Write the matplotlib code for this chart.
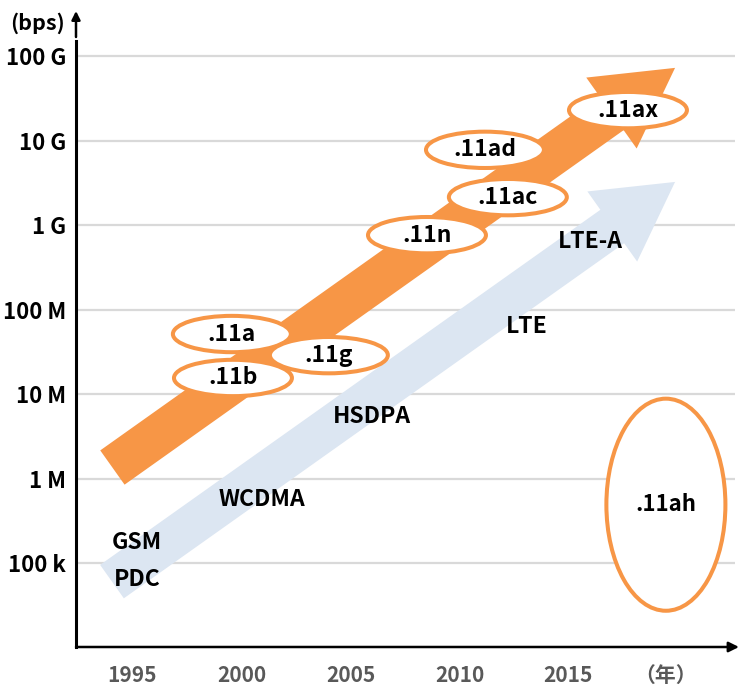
import matplotlib
matplotlib.use("Agg")
import matplotlib.pyplot as plt
from matplotlib.patches import Ellipse

plt.rcParams['font.family'] = ['Noto Sans CJK JP', 'DejaVu Sans']
plt.rcParams['font.weight'] = 'bold'

# y は bps の log10
y_ticks = [5, 6, 7, 8, 9, 10, 11]
y_labels = ["100 k", "1 M", "10 M", "100 M", "1 G", "10 G", "100 G"]
x_ticks = [1995, 2000, 2005, 2010, 2015]
x_labels = ["1995", "2000", "2005", "2010", "2015"]

# 無線LAN 規格 (楕円)
wifi_names = [".11a", ".11b", ".11g", ".11n", ".11ac", ".11ad", ".11ax"]
wifi_year = [1999.56, 1999.61, 2004.01, 2008.51, 2012.22, 2011.17, 2017.73]
wifi_log_bps = [7.71, 7.19, 7.46, 8.88, 9.33, 9.89, 10.36]

# .11ah (縦長の楕円)
ah_year = 2019.47
ah_log_bps = 5.69
ah_log_span = 2.51

# 携帯電話 規格
cell_names = ["GSM", "PDC", "WCDMA", "HSDPA", "LTE", "LTE-A"]
cell_year = [1995.21, 1995.21, 2000.94, 2005.99, 2013.10, 2015.99]
cell_log_bps = [5.24, 4.80, 5.75, 6.73, 7.80, 8.80]

# トレンド矢印 (始点, 終点)
wlan_trend_year = [1994.08, 2019.89]
wlan_trend_bps = [6.13, 10.86]
cell_trend_year = [1994.06, 2019.89]
cell_trend_bps = [4.78, 9.51]

ORANGE = "#F79646"
BLUE = "#DCE6F2"

fig = plt.figure(figsize=(7.38, 6.87), dpi=100)
ax = fig.add_axes([76 / 738, 40 / 687, 659 / 738, 606 / 687])
ax.set_xlim(1992.41, 2022.64)
ax.set_ylim(4.006, 11.178)

ax.set_yticks(y_ticks)
ax.set_yticklabels(y_labels, fontsize=16, fontweight='bold', color='black')
ax.set_xticks(x_ticks + [ah_year])
ax.set_xticklabels(x_labels + ["（年）"], fontsize=15, fontweight='bold', color='#595959')
ax.tick_params(axis='y', length=0, pad=7)
ax.tick_params(axis='x', length=0, pad=13)

ax.set_axisbelow(True)
ax.grid(axis='y', color='#D9D9D9', linewidth=1.6)
ax.grid(axis='x', visible=False)

for side in ["top", "right", "bottom"]:
    ax.spines[side].set_visible(False)
ax.spines["left"].set_linewidth(2.2)

# 横軸の矢印
ax.annotate("", xy=(1.006, 0), xytext=(0, 0), xycoords='axes fraction',
            textcoords='axes fraction', annotation_clip=False,
            arrowprops=dict(arrowstyle='-|>,head_length=0.6,head_width=0.3',
                            color='black', lw=1.8, shrinkA=0, shrinkB=0))

# 縦軸の上の小さい矢印と単位
fig.text(37 / 738, 1 - 23 / 687, "(bps)", ha='center', va='center',
         fontsize=15.5, fontweight='bold')
ax.annotate("", xy=(76 / 738, 1 - 11 / 687), xytext=(76 / 738, 1 - 37 / 687),
            xycoords='figure fraction', textcoords='figure fraction',
            arrowprops=dict(arrowstyle='-|>,head_length=0.5,head_width=0.25',
                            color='black', lw=1.8, shrinkA=0, shrinkB=0))

# トレンド矢印 (幅はピクセル相当)
px = 72 / 100
ax.annotate("", xy=(cell_trend_year[1], cell_trend_bps[1]),
            xytext=(cell_trend_year[0], cell_trend_bps[0]), zorder=1,
            arrowprops=dict(arrowstyle='simple,head_length=77,head_width=86,tail_width=41',
                            mutation_scale=px, fc=BLUE, ec='none', lw=0,
                            shrinkA=0, shrinkB=0))
ax.annotate("", xy=(wlan_trend_year[1], wlan_trend_bps[1]),
            xytext=(wlan_trend_year[0], wlan_trend_bps[0]), zorder=2,
            arrowprops=dict(arrowstyle='simple,head_length=78,head_width=87,tail_width=42',
                            mutation_scale=px, fc=ORANGE, ec='none', lw=0,
                            shrinkA=0, shrinkB=0))

for name, yr, lb in zip(wifi_names, wifi_year, wifi_log_bps):
    ax.add_patch(Ellipse((yr, lb), 5.41, 0.43, fc='white', ec=ORANGE, lw=2.9, zorder=3))
    ax.text(yr, lb, name, ha='center', va='center', fontsize=16.5,
            fontweight='bold', zorder=4)

ax.add_patch(Ellipse((ah_year, ah_log_bps), 5.46, ah_log_span, fc='white',
                     ec=ORANGE, lw=2.9, zorder=3))
ax.text(ah_year, ah_log_bps, ".11ah", ha='center', va='center', fontsize=16,
        fontweight='bold', zorder=4)

for name, yr, lb in zip(cell_names, cell_year, cell_log_bps):
    ax.text(yr, lb, name, ha='center', va='center', fontsize=16.5,
            fontweight='bold', zorder=4)

fig.savefig("out.png", dpi=100)
